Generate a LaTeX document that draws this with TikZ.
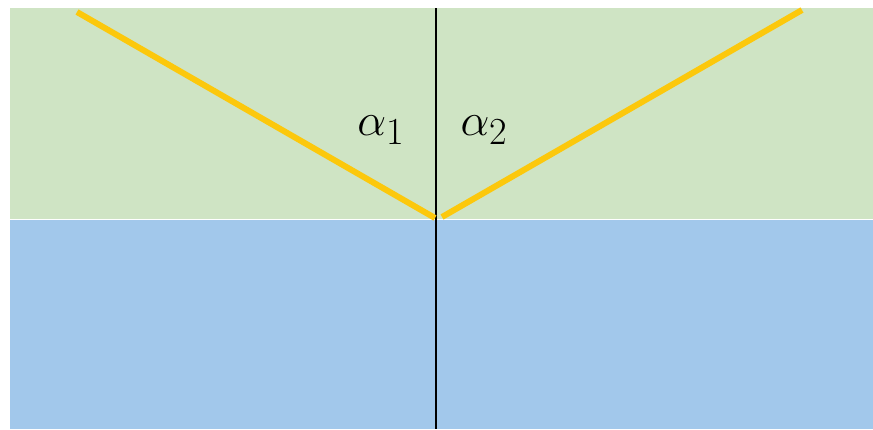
\documentclass[tikz,border=0pt]{standalone}
\usepackage{graphicx}
\definecolor{airgreen}{RGB}{207,228,196}
\definecolor{waterblue}{RGB}{162,200,235}
\definecolor{raygold}{RGB}{252,200,12}
\tikzset{
    ray/.style={raygold, line width=6bp},
    anglelabel/.style={inner sep=0pt, font=\Huge}
}
\newcommand{\bigangle}[1]{\scalebox{1.85}{$\alpha_{#1}$}}
\begin{document}
\begin{tikzpicture}[x=1bp, y=-1bp]
    \useasboundingbox (0,0) rectangle (873,429);
    % 1. Hai môi trường
    \fill[airgreen] (10,8) rectangle (873,218.5);
    \fill[waterblue] (10,219.5) rectangle (873,429);
    % 2. Pháp tuyến
    \coordinate (top) at (436,8);
    \coordinate (bottom) at (436,429);
    \draw[black, line width=1.2bp] (top) -- (bottom);
    % 3. Tia tới và tia phản xạ
    \coordinate (inA) at (77,12);
    \coordinate (inB) at (435,218);
    \coordinate (outA) at (442,217);
    \coordinate (outB) at (802,10);
    \draw[ray] (inA) -- (inB);
    \draw[ray] (outA) -- (outB);
    % 4. Các góc
    \node[anglelabel] (a1) at (381,130) {\bigangle{1}};
    \node[anglelabel] (a2) at (484,130) {\bigangle{2}};
\end{tikzpicture}
\end{document}
